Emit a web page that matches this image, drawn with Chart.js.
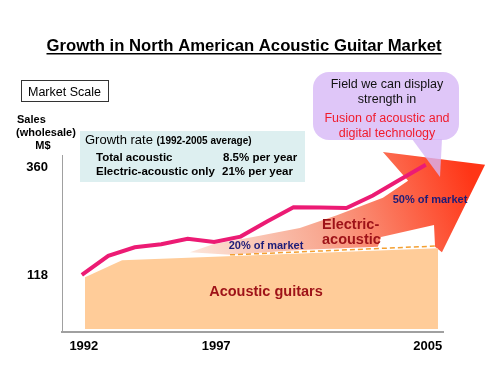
<!DOCTYPE html>
<html>
<head>
<meta charset="utf-8">
<script src="https://cdn.jsdelivr.net/npm/chart.js@4.4.1/dist/chart.umd.min.js"></script>
<style>
  html, body { margin: 0; padding: 0; background: #fff; }
  #wrap { width: 500px; height: 375px; }
</style>
</head>
<body>
<div id="wrap"><canvas id="chart" width="500" height="375"></canvas></div>
<script>
// 데이터 (M$, wholesale)
const years = [1992, 1993, 1994, 1995, 1996, 1997, 1998, 1999, 2000, 2001, 2002, 2003, 2004, 2005];
const totalSales = [118, 161, 180, 187, 199, 192, 204, 238, 270, 269, 268, 296, 331, 365];

// acoustic guitars area (top edge)
const acousticYears = [1992.12, 1993.52, 2005.46];
const acousticValues = [113, 151, 178];

// 20% of market split (dashed)
const splitYears = [1997.6, 2005.46];
const splitValues = [163, 183];

// electric-acoustic arrow outline
const arrowYears = [1996.09, 1996.96, 1998.47, 2000.24, 2001.64, 2003.38, 2004.33, 2003.38, 2007.24, 2005.61, 2005.35, 2005.31, 2003.31, 2003.19, 2000.24, 1997.6];
const arrowValues = [169, 187, 203, 223, 252, 291, 329, 394, 365, 169, 181, 230, 203, 181, 174, 163];

const yTicks = [118, 360];
const xTicks = [1992, 1997, 2005];

const FONT = '"Liberation Sans", Arial, sans-serif';

function txt(ctx, s, x, y, font, color, align) {
    ctx.font = font;
    ctx.fillStyle = color;
    ctx.textAlign = align || 'left';
    ctx.textBaseline = 'alphabetic';
    ctx.fillText(s, x, y);
}

function roundRect(ctx, x, y, w, h, r) {
    ctx.beginPath();
    ctx.moveTo(x + r, y);
    ctx.arcTo(x + w, y, x + w, y + h, r);
    ctx.arcTo(x + w, y + h, x, y + h, r);
    ctx.arcTo(x, y + h, x, y, r);
    ctx.arcTo(x, y, x + w, y, r);
    ctx.closePath();
}

const decor = {
    id: 'decor',
    beforeDatasetsDraw(chart) {
        const { ctx, scales: { x, y } } = chart;
        // 화살표 (electric-acoustic)
        const g = ctx.createLinearGradient(x.getPixelForValue(1996), y.getPixelForValue(165),
                                           x.getPixelForValue(2006.5), y.getPixelForValue(380));
        g.addColorStop(0, '#FCE7DC');
        g.addColorStop(0.45, '#F8A891');
        g.addColorStop(1, '#FF3516');
        ctx.save();
        ctx.beginPath();
        arrowYears.forEach((yr, i) => {
            const px = x.getPixelForValue(yr), py = y.getPixelForValue(arrowValues[i]);
            if (i === 0) ctx.moveTo(px, py); else ctx.lineTo(px, py);
        });
        ctx.closePath();
        ctx.fillStyle = g;
        ctx.fill();
        ctx.restore();
    },
    afterDraw(chart) {
        const ctx = chart.ctx;
        ctx.save();

        // title
        const title = 'Growth in North American Acoustic Guitar Market';
        txt(ctx, title, 244, 51, 'bold 16.7px ' + FONT, '#000', 'center');
        const tw = ctx.measureText(title).width;
        ctx.fillStyle = '#000';
        ctx.fillRect(244 - tw / 2, 53, tw, 1.5);

        // Market Scale box
        ctx.strokeStyle = '#333';
        ctx.lineWidth = 1;
        ctx.strokeRect(21.5, 80.5, 87, 21);
        txt(ctx, 'Market Scale', 28, 96, '12.5px ' + FONT, '#000');

        // axis title
        txt(ctx, 'Sales', 17, 123, 'bold 11px ' + FONT, '#000');
        txt(ctx, '(wholesale)', 16, 136, 'bold 11px ' + FONT, '#000');
        txt(ctx, 'M$', 43, 149, 'bold 11px ' + FONT, '#000', 'center');

        // growth rate box
        ctx.fillStyle = '#DDEFF0';
        ctx.fillRect(80, 131, 225, 51);
        txt(ctx, 'Growth rate', 85, 144, '13px ' + FONT, '#000');
        ctx.font = '13px ' + FONT;
        const gw = ctx.measureText('Growth rate ').width;
        txt(ctx, '(1992-2005 average)', 85 + gw, 144, 'bold 10px ' + FONT, '#000');
        txt(ctx, 'Total acoustic', 96, 161, 'bold 11.5px ' + FONT, '#000');
        txt(ctx, '8.5% per year', 223, 161, 'bold 11.5px ' + FONT, '#000');
        txt(ctx, 'Electric-acoustic only', 96, 175, 'bold 11.5px ' + FONT, '#000');
        txt(ctx, '21% per year', 222, 175, 'bold 11.5px ' + FONT, '#000');

        // in-chart labels
        txt(ctx, '20% of market', 266, 249, 'bold 11px ' + FONT, '#1C1C78', 'center');
        txt(ctx, '50% of market', 430, 203, 'bold 11px ' + FONT, '#1C1C78', 'center');
        txt(ctx, 'Electric-', 322, 229, 'bold 14.5px ' + FONT, '#9E1218');
        txt(ctx, 'acoustic', 322, 244, 'bold 14.5px ' + FONT, '#9E1218');
        txt(ctx, 'Acoustic guitars', 266, 296, 'bold 14.5px ' + FONT, '#9E1218', 'center');

        // speech bubble
        ctx.fillStyle = 'rgba(214, 182, 246, 0.78)';
        roundRect(ctx, 313, 72, 146, 68, 16);
        ctx.fill();
        ctx.beginPath();
        ctx.moveTo(412, 139);
        ctx.lineTo(442, 139);
        ctx.lineTo(440, 177);
        ctx.closePath();
        ctx.fill();
        txt(ctx, 'Field we can display', 387, 88, '12.5px ' + FONT, '#111', 'center');
        txt(ctx, 'strength in', 387, 103, '12.5px ' + FONT, '#111', 'center');
        txt(ctx, 'Fusion of acoustic and', 387, 122, '12.5px ' + FONT, '#F01B2C', 'center');
        txt(ctx, 'digital technology', 387, 137, '12.5px ' + FONT, '#F01B2C', 'center');

        ctx.restore();
    }
};

const ctx = document.getElementById('chart').getContext('2d');
new Chart(ctx, {
    type: 'line',
    data: {
        datasets: [
            {
                label: 'Total acoustic',
                data: years.map((yr, i) => ({ x: yr, y: totalSales[i] })),
                borderColor: '#EC1B74',
                borderWidth: 4,
                pointRadius: 0,
                tension: 0,
                fill: false,
                order: 0
            },
            {
                label: '20% split',
                data: splitYears.map((yr, i) => ({ x: yr, y: splitValues[i] })),
                borderColor: '#F4A032',
                borderWidth: 1.5,
                borderDash: [5, 3],
                pointRadius: 0,
                fill: false,
                order: 1
            },
            {
                label: 'Acoustic guitars',
                data: acousticYears.map((yr, i) => ({ x: yr, y: acousticValues[i] })),
                borderWidth: 0,
                borderColor: 'rgba(0,0,0,0)',
                backgroundColor: '#FFCC99',
                pointRadius: 0,
                fill: { value: -3 },
                order: 2
            }
        ]
    },
    options: {
        responsive: false,
        animation: false,
        layout: { padding: { top: 155, right: 57, left: 0, bottom: 0 } },
        scales: {
            x: {
                type: 'linear',
                min: 1991.25,
                max: 2005.65,
                afterFit: s => { s.height = 43; },
                afterBuildTicks: s => { s.ticks = xTicks.map(v => ({ value: v })); },
                grid: { display: false, drawTicks: false },
                border: { display: true, color: '#A0A0A0', width: 2 },
                ticks: {
                    color: '#000',
                    padding: 7,
                    labelOffset: 2,
                    font: { family: FONT, size: 13, weight: 'bold' },
                    callback: v => String(v)
                }
            },
            y: {
                min: -10,
                max: 387,
                afterFit: s => { s.width = 62; },
                afterBuildTicks: s => { s.ticks = yTicks.map(v => ({ value: v })); },
                grid: { display: false, drawTicks: false },
                border: { display: true, color: '#A0A0A0', width: 1 },
                ticks: {
                    color: '#000',
                    padding: 14,
                    font: { family: FONT, size: 13, weight: 'bold' },
                    callback: v => String(v)
                }
            }
        },
        plugins: {
            legend: { display: false },
            tooltip: { enabled: false }
        }
    },
    plugins: [decor]
});
</script>
</body>
</html>
